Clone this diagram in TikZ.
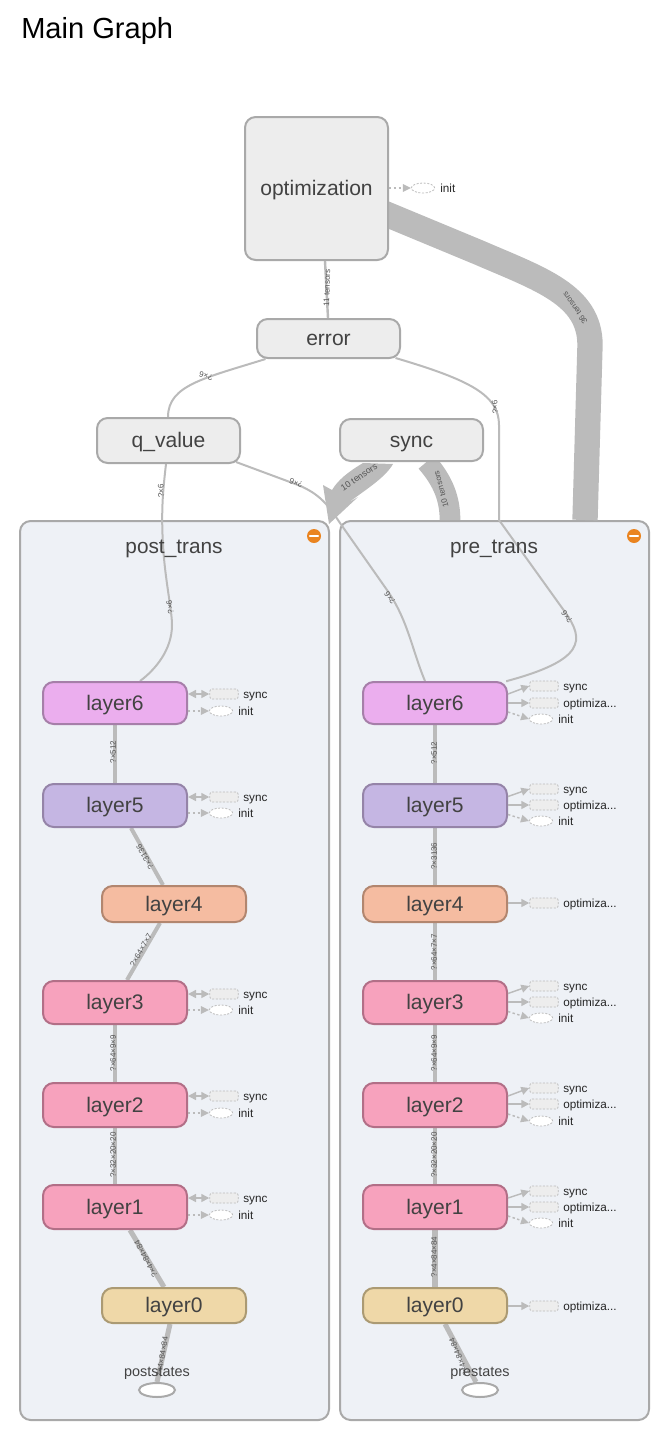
\documentclass[tikz,border=0pt]{standalone}
\usepackage{fontspec}
\setmainfont{Liberation Sans}
\usetikzlibrary{arrows.meta,calc,shapes.geometric}
\definecolor{edgec}{HTML}{BBBBBB}
\definecolor{bordc}{HTML}{A9A9A9}
\definecolor{metac}{HTML}{EDEDED}
\definecolor{clusc}{HTML}{EEF1F6}
\definecolor{txtc}{HTML}{424242}
\definecolor{labc}{HTML}{555555}
\pgfdeclarelayer{clu}
\pgfdeclarelayer{edg}
\pgfsetlayers{clu,edg,main}
\tikzset{
  x=0.75pt,y=-0.75pt,
  box/.style={draw=bordc,fill=metac,line width=1.5pt,rounded corners=8pt,inner sep=0pt,text=txtc,text height=10.6pt,text depth=0pt,font=\fontsize{15.8pt}{18pt}\selectfont},
  clusterbox/.style={draw=bordc,fill=clusc,line width=1.5pt,rounded corners=8pt,inner sep=0pt},
  clustitle/.style={text=txtc,text height=10.6pt,text depth=0pt,font=\fontsize{15.6pt}{18pt}\selectfont,inner sep=0pt},
  lsix/.style={box,fill=lsixf,draw=lsixd},
  lfive/.style={box,fill=lfivef,draw=lfived},
  lfour/.style={box,fill=lfourf,draw=lfourd},
  lpink/.style={box,fill=lpinkf,draw=lpinkd},
  lzero/.style={box,fill=lzerof,draw=lzerod},
  elab/.style={text=labc,font=\fontsize{6pt}{6pt}\selectfont,inner sep=0pt},
  elabb/.style={text=labc,font=\fontsize{6.7pt}{7pt}\selectfont,inner sep=0pt},
  edge/.style={draw=edgec,line width=1.5pt},
  wedge/.style={draw=edgec,line width=#1},
  auxedge/.style={draw=edgec,line width=1.1pt,-{Triangle[length=6pt,width=6pt]}},
  auxbi/.style={draw=edgec,line width=1.1pt,{Triangle[length=6pt,width=6pt]}-{Triangle[length=6pt,width=6pt]}},
  auxdash/.style={draw=edgec,line width=1.1pt,dash pattern=on 1.8pt off 1.8pt,-{Triangle[length=6pt,width=6pt,fill=edgec,line width=0pt]}},
  auxrect/.style={draw=edgec,fill=metac,line width=0.6pt,dash pattern=on 1.5pt off 1.2pt,rounded corners=2pt,minimum width=21.5pt,minimum height=7.5pt,inner sep=0pt},
  auxell/.style={ellipse,draw=edgec,fill=white,line width=0.6pt,dash pattern=on 1.5pt off 1.2pt,minimum width=17.5pt,minimum height=7.5pt,inner sep=0pt},
  auxlab/.style={anchor=west,text=black!85,text height=6.2pt,text depth=0pt,font=\fontsize{8.8pt}{10pt}\selectfont,inner sep=0pt},
  inp/.style={ellipse,draw=bordc,fill=white,line width=1.5pt,minimum width=27pt,minimum height=10.5pt,inner sep=0pt},
  inplab/.style={text=txtc,text height=8pt,text depth=0pt,font=\fontsize{10.8pt}{12pt}\selectfont,inner sep=0pt},
  minus/.style={circle,fill=minusc,minimum size=10.5pt,inner sep=0pt},
}
\definecolor{lsixf}{HTML}{EBAEEE}\definecolor{lsixd}{HTML}{A67FA9}
\definecolor{lfivef}{HTML}{C5B6E3}\definecolor{lfived}{HTML}{9584A8}
\definecolor{lfourf}{HTML}{F5BCA1}\definecolor{lfourd}{HTML}{B2866F}
\definecolor{lpinkf}{HTML}{F7A2BD}\definecolor{lpinkd}{HTML}{B26F87}
\definecolor{lzerof}{HTML}{EFD8A8}\definecolor{lzerod}{HTML}{AB9A73}
\definecolor{minusc}{HTML}{EA8420}
\newcommand{\gbox}[7]{\node[#2,minimum width={(#5-#3)*0.75pt},minimum height={(#6-#4)*0.75pt}] (#1) at ({(#3+#5)/2},{(#4+#6)/2}) {#7};}
\begin{document}
\begin{tikzpicture}
\useasboundingbox (0,0) rectangle (670,1438);
\node[anchor=west,inner sep=0pt,font=\fontsize{21.8pt}{26pt}\selectfont] (title) at (21,31) {Main Graph};
% clusters
\begin{pgfonlayer}{clu}
\gbox{post}{clusterbox}{20}{521}{329}{1420}{}
\gbox{pre}{clusterbox}{340}{521}{649}{1420}{}
\end{pgfonlayer}
\node[clustitle] (postT) at (174,546) {post\_trans};
\node[clustitle] (preT) at (494,546) {pre\_trans};
\node[minus] (postM) at (314,536) {};
\node[minus] (preM) at (634,536) {};
\draw[white,line width=1.6pt,line cap=round] ($(postM)+(-4,0)$) -- ($(postM)+(4,0)$);
\draw[white,line width=1.6pt,line cap=round] ($(preM)+(-4,0)$) -- ($(preM)+(4,0)$);
% top nodes
\gbox{opt}{box}{245}{117}{388}{260}{optimization}
\gbox{err}{box}{257}{319}{400}{358}{error}
\gbox{qv}{box}{97}{418}{240}{463}{q\_value}
\gbox{syn}{box}{340}{419}{483}{461}{sync}
% left column
\gbox{L6}{lsix}{43}{682}{187}{724}{layer6}
\gbox{L5}{lfive}{43}{784}{187}{827}{layer5}
\gbox{L4}{lfour}{102}{886}{246}{922}{layer4}
\gbox{L3}{lpink}{43}{981}{187}{1024}{layer3}
\gbox{L2}{lpink}{43}{1083}{187}{1127}{layer2}
\gbox{L1}{lpink}{43}{1185}{187}{1229}{layer1}
\gbox{L0}{lzero}{102}{1288}{246}{1323}{layer0}
\node[inp] (Lin) at (157,1390) {};
\node[inplab] (LinT) at (157,1371) {poststates};
% right column
\gbox{R6}{lsix}{363}{682}{507}{724}{layer6}
\gbox{R5}{lfive}{363}{784}{507}{827}{layer5}
\gbox{R4}{lfour}{363}{886}{507}{922}{layer4}
\gbox{R3}{lpink}{363}{981}{507}{1024}{layer3}
\gbox{R2}{lpink}{363}{1083}{507}{1127}{layer2}
\gbox{R1}{lpink}{363}{1185}{507}{1229}{layer1}
\gbox{R0}{lzero}{363}{1288}{507}{1323}{layer0}
\node[inp] (Rin) at (480,1390) {};
\node[inplab] (RinT) at (480,1371) {prestates};
% optimization init
\node[auxell] (optI) at (423,188) {};
\node[auxlab] (optIT) at (440,188.5) {init};
\draw[auxdash] (opt.east |- optI) -- (optI.west);
% left side items
\foreach \n/\ys/\yi in {6/694/711,5/797/813,3/994/1010,2/1096/1113,1/1198/1215}{
  \node[auxrect] (Ls\n) at (224,\ys) {};
  \node[auxlab] (LsT\n) at (243,\ys+0.5) {sync};
  \node[auxell] (Li\n) at (221,\yi) {};
  \node[auxlab] (LiT\n) at (238,\yi+0.5) {init};
  \draw[auxbi] (L\n.east |- Ls\n) -- (Ls\n.west);
  \draw[auxdash] (L\n.east |- Li\n) -- (Li\n.west);
}
% right side items
\foreach \n/\ys/\yo/\yi in {6/686/703/719,5/789/805/821,3/986/1002/1018,2/1088/1104/1121,1/1191/1207/1223}{
  \node[auxrect] (Rs\n) at (544,\ys) {};
  \node[auxlab] (RsT\n) at (563,\ys+0.5) {sync};
  \node[auxrect] (Ro\n) at (544,\yo) {};
  \node[auxlab] (RoT\n) at (563,\yo+0.5) {optimiza...};
  \node[auxell] (Ri\n) at (541,\yi) {};
  \node[auxlab] (RiT\n) at (558,\yi+0.5) {init};
  \draw[auxedge] ($(R\n.east)+(0,-9)$) -- (Rs\n.west);
  \draw[auxedge] (R\n.east |- Ro\n) -- (Ro\n.west);
  \draw[auxdash] ($(R\n.east)+(0,9)$) -- (Ri\n.west);
}
\foreach \n/\yo in {4/903,0/1306}{
  \node[auxrect] (Ro\n) at (544,\yo) {};
  \node[auxlab] (RoT\n) at (563,\yo+0.5) {optimiza...};
  \draw[auxedge] (R\n.east |- Ro\n) -- (Ro\n.west);
}
% edges
\begin{pgfonlayer}{edg}
\draw[wedge=19pt] ($(opt.east)+(-15,20.5)$) -- (480,253) .. controls (540,279) and (590,295) .. (590,345) -- ($(pre.north)+(90.5,0)$);
\draw[wedge=1.8pt] ($(opt.south)+(8.5,0)$) -- ($(err.north)+(-0.5,0)$);
\draw[edge] ($(err.south)+(-63,0)$) .. controls (205,378) and (168,385) .. ($(qv.north)+(-0.5,0)$);
\draw[edge] ($(err.south)+(67,-1)$) .. controls (470,380) and (499,395) .. (499,425) -- (499,520) -- (565,612) .. controls (585,640) and (585,660) .. ($(R6.north)+(72,0)$) -- ($(R6.east)+(-1,-21)$);
\draw[edge] ($(qv.south)+(-2.5,0)$) .. controls (163,490) and (161,510) .. (163,545) .. controls (165,580) and (172,610) .. (172,625) .. controls (172,650) and (155,670) .. ($(L6.north)+(25,0)$);
\draw[edge] ($(qv.south)+(67.5,-2)$) -- (298,485) .. controls (320,494) and (328,505) .. (340,523) -- (387,590) .. controls (408,620) and (412,650) .. ($(R6.north)+(-10,0)$);
\fill[edgec] ($(syn.south)+(-48.5,1)$) .. controls (348,472) and (338,480) .. (332,490) -- (323,485) -- ($(post.north east)+(-1,4)$) -- (358,497) -- (348,503) .. controls (365,490) and (385,478) .. ($(syn.south)+(-18.5,2)$) -- cycle;
\draw[wedge=15.5pt] ($(syn.south)+(15,0)$) .. controls (444,482) and (450,500) .. ($(pre.north)+(-44.5,0)$);
% left chain
\draw[wedge=2.4pt] (L6.south -| 115,0) -- (L5.north -| 115,0);
\draw[wedge=3pt] ($(L5.south)+(16,0)$) -- ($(L4.north)+(-11,0)$);
\draw[wedge=3pt] ($(L4.south)+(-14,0)$) -- ($(L3.north)+(12,0)$);
\draw[wedge=3pt] (L3.south -| 115,0) -- (L2.north -| 115,0);
\draw[wedge=3.4pt] (L2.south -| 115,0) -- (L1.north -| 115,0);
\draw[wedge=3.8pt] ($(L1.south)+(15,0)$) -- ($(L0.north)+(-10,0)$);
\draw[wedge=3.8pt] ($(L0.south)+(-4,0)$) -- ($(Lin.north)+(0,0)$);
% right chain
\draw[wedge=2.4pt] (R6.south -| 435,0) -- (R5.north -| 435,0);
\draw[wedge=3pt] (R5.south -| 435,0) -- (R4.north -| 435,0);
\draw[wedge=3pt] (R4.south -| 435,0) -- (R3.north -| 435,0);
\draw[wedge=3pt] (R3.south -| 435,0) -- (R2.north -| 435,0);
\draw[wedge=3.4pt] (R2.south -| 435,0) -- (R1.north -| 435,0);
\draw[wedge=3.8pt] (R1.south -| 435,0) -- (R0.north -| 435,0);
\draw[wedge=3.8pt] ($(R0.south)+(10,0)$) -- ($(Rin.north)+(-4,0)$);
\end{pgfonlayer}
% edge labels
\node[elab,rotate=125] (t36) at (575,308) {36 tensors};
\node[elab,rotate=88] (t11) at (327,288) {11 tensors};
\node[elabb,rotate=34] (t10a) at (359,477) {10 tensors};
\node[elab,rotate=105] (t10b) at (441,489) {10 tensors};
\node[elab,rotate=165] (e1) at (206,376) {?×6};
\node[elab,rotate=95] (e2) at (495,407) {?×6};
\node[elab,rotate=125] (e3) at (567,617) {?×6};
\node[elab,rotate=92] (e4) at (161,491) {?×6};
\node[elab,rotate=100] (e5) at (170,607) {?×6};
\node[elab,rotate=160] (e6) at (296,483) {?×6};
\node[elab,rotate=125] (e7) at (390,598) {?×6};
\node[elab,rotate=90] (la) at (113,752) {?×512};
\node[elab,rotate=120] (lb) at (145,857) {?×3136};
\node[elab,rotate=60] (lc) at (141,950) {?×64×7×7};
\node[elab,rotate=90] (ld) at (113,1053) {?×64×9×9};
\node[elab,rotate=90] (le) at (113,1155) {?×32×20×20};
\node[elab,rotate=118] (lf) at (146,1259) {?×4×84×84};
\node[elab,rotate=80] (lg) at (162,1357) {?×4×84×84};
\node[elab,rotate=90] (ra) at (434,753) {?×512};
\node[elab,rotate=90] (rb) at (434,856) {?×3136};
\node[elab,rotate=90] (rc) at (434,952) {?×64×7×7};
\node[elab,rotate=90] (rd) at (434,1053) {?×64×9×9};
\node[elab,rotate=90] (re) at (434,1155) {?×32×20×20};
\node[elab,rotate=90] (rf) at (434,1257) {?×4×84×84};
\node[elab,rotate=112] (rg) at (459,1357) {?×4×84×84};
\end{tikzpicture}
\end{document}
